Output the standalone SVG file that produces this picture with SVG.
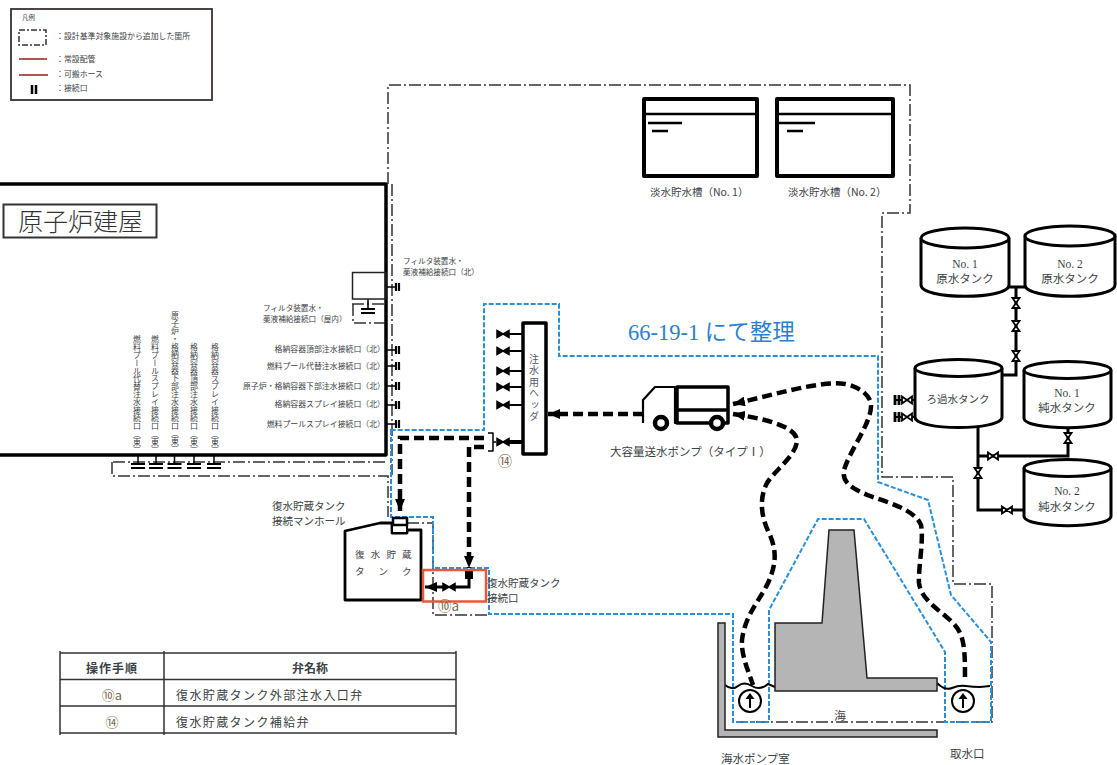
<svg xmlns="http://www.w3.org/2000/svg" width="1117" height="765" viewBox="0 0 1117 765">
<style>
text{font-family:"Liberation Serif","Noto Sans CJK JP",serif;fill:#3a3f45;font-size:10.5px}
.jp{font-family:"Noto Sans CJK JP",sans-serif}
.s8{font-size:7.9px}
.s7{font-size:7.6px}
.lg{font-size:7.9px}
.v{writing-mode:vertical-rl;font-size:7.9px}
.m{text-anchor:middle}
.e{text-anchor:end}
.n{fill:none;stroke:#000;stroke-linejoin:round}
.w{fill:#fff;stroke:#000;stroke-linejoin:round}
.dd{fill:none;stroke:#333;stroke-width:1.5;stroke-dasharray:12 3 2 3}
.blue{fill:none;stroke:#2a8fd8;stroke-width:2;stroke-dasharray:5 2}
.hose{fill:none;stroke:#000;stroke-width:4.5;stroke-dasharray:10 5}
.pipe{fill:none;stroke:#000;stroke-width:3}
.gray{fill:#b5b5b5;stroke:#222;stroke-width:1.5}
.num{fill:#7a6a50}
</style>
<defs>
<marker id="arr" markerUnits="userSpaceOnUse" markerWidth="13" markerHeight="10" refX="12" refY="5" orient="auto-start-reverse"><path d="M0,0L12,5L0,10z" fill="#000"/></marker>
<g id="vh"><path d="M-5,-3.5L5,3.5V-3.5L-5,3.5z" fill="#fff" stroke="#000" stroke-width="1.8"/></g>
<g id="vv"><path d="M-3.5,-5L3.5,5H-3.5L3.5,-5z" fill="#fff" stroke="#000" stroke-width="1.8"/></g>
<g id="vb"><path d="M-6,-3.5L6,3.5V-3.5L-6,3.5z" fill="#000" stroke="#000" stroke-width="1.5"/></g>
<g id="cr"><path d="M0,-4V4M3,-4V4" stroke="#000" stroke-width="2.2" fill="none"/></g>
<g id="cd"><path d="M-7,-2H7M-7,2H7" stroke="#000" stroke-width="2" fill="none"/></g>
</defs>
<rect width="1117" height="765" fill="#fff"/>

<g id="legend">
<rect x="11" y="9" width="201" height="91" fill="#fff" stroke="#3a3030" stroke-width="1.8"/>
<text class="jp" x="22" y="20" style="font-size:6.5px">凡例</text>
<rect class="dd" x="19" y="30" width="27" height="15" style="stroke-dasharray:6 2 2 2"/>
<path d="M19,59H47" stroke="#8a2418" stroke-width="1.5"/>
<path d="M19,75H48" stroke="#8a2418" stroke-width="1.5"/>
<path d="M32,85V94M36,85V94" stroke="#000" stroke-width="2.5"/>
<text class="jp lg" x="56" y="39">：設計基準対象施設から追加した箇所</text>
<text class="jp lg" x="56" y="62">：常設配管</text>
<text class="jp lg" x="56" y="77">：可搬ホース</text>
<text class="jp lg" x="56" y="91">：接続口</text>
</g>

<g id="connectors">
<path class="dd" d="M388,184V85H910V213H882V477H953V584H992V722H733"/>
<path class="dd" d="M352,304H386M353,304V323H386M392,184V475M113,462H388M112,462V476H388V517M407,523H433V615H488"/>
<path class="blue" d="M391,430V517H433V568H489V614H733V722H769V610L818,519H864L945,652V722H991V642L951,595L928,500L878,482V356H559V304H484V430Z"/>
<path class="hose" marker-start="url(#arr)" d="M733,404C770,396 820,380 845,384C860,387 872,396 871,407C870,425 850,450 844,470C842,482 850,488 870,496C890,503 915,510 921,525C924,540 918,570 919,583C921,600 940,610 953,623C965,635 965,650 965,682"/>
<path class="hose" marker-start="url(#arr)" d="M733,414C760,418 795,425 797,440C797,455 775,470 767,483C758,500 762,520 770,535C777,552 776,565 768,583C760,600 745,615 742,640C741,655 748,670 753,685"/>
<path class="hose" marker-end="url(#arr)" d="M643,414H548"/>
<path class="hose" marker-end="url(#arr)" d="M484,438H400V511"/>
<path class="hose" marker-end="url(#arr)" d="M484,447H469V568"/>
<path class="n" stroke-width="1.5" d="M488,433H493V451H488M493,442H496"/>
<path class="pipe" d="M469,575V587H455"/>
<path class="pipe" marker-end="url(#arr)" d="M444,587H425"/>
<rect x="465" y="571" width="8" height="8" fill="#000"/>
<use href="#vb" x="449" y="587"/>
<use href="#vb" x="503" y="442"/>
<path d="M509,442H523" stroke="#000" stroke-width="4"/>
<path d="M509,334H523M509,351H523M509,371H523M509,387H523M509,405H523" stroke="#000" stroke-width="2"/>
<use href="#vb" x="503" y="334"/><use href="#vb" x="503" y="351"/><use href="#vb" x="503" y="371"/><use href="#vb" x="503" y="387"/><use href="#vb" x="503" y="405"/>
<path d="M386,287H396M386,350H396M386,366H396M386,386H396M386,405H396M386,424H396" stroke="#000" stroke-width="1.5"/>
<use href="#cr" x="396" y="287"/><use href="#cr" x="396" y="350"/><use href="#cr" x="396" y="366"/><use href="#cr" x="396" y="386"/><use href="#cr" x="396" y="405"/><use href="#cr" x="396" y="424"/>
<path d="M138,455V464M156,455V464M174.500,455V464M194,455V464M214,455V464M368,299V309" stroke="#000" stroke-width="1.5"/>
<use href="#cd" x="138" y="466"/><use href="#cd" x="156" y="466"/><use href="#cd" x="174.500" y="466"/><use href="#cd" x="194" y="466"/><use href="#cd" x="214" y="466"/><use href="#cd" x="368" y="311"/>
<path class="pipe" d="M1009,287H1025M1016,287V375H1002M978,427V510H1024M978,456H1068V427"/>
<use href="#vv" x="1016" y="303"/><use href="#vv" x="1016" y="326"/><use href="#vv" x="1016" y="356"/>
<use href="#vh" x="993" y="456"/><use href="#vv" x="978" y="473"/><use href="#vh" x="1007" y="510"/><use href="#vv" x="1068" y="438"/>
<path d="M896,400H915M896,417H915" stroke="#000" stroke-width="2"/>
<use href="#vh" x="907" y="400"/><use href="#vh" x="907" y="417"/>
<path d="M895,395V405M899,395V405M895,412V422M899,412V422" stroke="#000" stroke-width="2.8"/>
<path class="n" stroke-width="2" d="M725,685Q732,691 738,686T752,686T768,684L775,687M937,683Q945,691 952,688T966,686T980,687L990,686"/>
</g>

<g id="reactor-building">
<path class="n" stroke-width="3.500" d="M0,184H386V455H0"/>
<rect x="3.500" y="204.500" width="153" height="33" fill="#fff" stroke="#333" stroke-width="2"/>
<text class="jp" x="18" y="231" style="font-size:25px;fill:#333;font-weight:300">原子炉建屋</text>
<rect x="352.500" y="272.500" width="33.500" height="26.500" fill="none" stroke="#222" stroke-width="1.500"/>
<text class="jp s7" x="403" y="264">フィルタ装置水・</text>
<text class="jp s7" x="403" y="275">薬液補給接続口（北）</text>
<text class="jp s7" x="263" y="311">フィルタ装置水・</text>
<text class="jp s7" x="263" y="322">薬液補給接続口（屋内）</text>
<text class="jp s8 e" x="385" y="352">格納容器頂部注水接続口（北）</text>
<text class="jp s8 e" x="385" y="369">燃料プール代替注水接続口（北）</text>
<text class="jp s8 e" x="385" y="389">原子炉・格納容器下部注水接続口（北）</text>
<text class="jp s8 e" x="385" y="407">格納容器スプレイ接続口（北）</text>
<text class="jp s8 e" x="385" y="427">燃料プールスプレイ接続口（北）</text>
<text class="jp v" x="137" y="335">燃料プール代替注水接続口（東）</text>
<text class="jp v" x="155" y="335">燃料プールスプレイ接続口（東）</text>
<text class="jp v" x="175" y="311">原子炉・格納容器下部注水接続口（東）</text>
<text class="jp v" x="194" y="343">格納容器頂部注水接続口（東）</text>
<text class="jp v" x="215" y="343">格納容器スプレイ接続口（東）</text>
</g>

<g id="freshwater-1">
<rect class="n" stroke-width="4" x="644" y="99" width="113" height="77"/>
<path class="n" stroke-width="2.500" d="M644,114H757"/>
<path class="n" stroke-width="2.500" d="M648,123H682M652,131H668"/>
<text class="jp" x="650" y="196">淡水貯水槽（No. 1）</text>
</g>
<g id="freshwater-2">
<rect class="n" stroke-width="4" x="777" y="99" width="116" height="77"/>
<path class="n" stroke-width="2.500" d="M777,114H893"/>
<path class="n" stroke-width="2.500" d="M779,123H815M787,131H803"/>
<text class="jp" x="788" y="196">淡水貯水槽（No. 2）</text>
</g>

<text id="note" x="628" y="340" style="font-size:22.500px;fill:#2a7fd0">66-19-1 にて整理</text>

<g id="header">
<rect class="w" stroke-width="3.500" x="523" y="323" width="23" height="131"/>
<text class="jp v" x="534" y="354" style="font-size:10px;letter-spacing:1.500px;fill:#555a70">注水用ヘッダ</text>
<text class="jp m num" x="505" y="466" style="font-size:14px">⑭</text>
</g>

<g id="truck">
<path class="n" stroke-width="2.200" d="M643,423V400L655,387H675V423H729"/>
<rect class="n" stroke-width="3.500" x="677" y="387" width="51" height="36"/>
<path class="n" stroke-width="3.500" d="M677,410H728"/>
<circle cx="661" cy="423" r="6" fill="#fff" stroke="#000" stroke-width="4.500"/>
<circle cx="717" cy="423" r="6" fill="#fff" stroke="#000" stroke-width="4.500"/>
<text class="jp" x="610" y="456" style="font-size:11.500px">大容量送水ポンプ（タイプⅠ）</text>
</g>

<g id="cst">
<path class="w" stroke-width="2.800" d="M345,600V531L380,523H392V533H407V530H421V600Z"/>
<rect class="w" stroke-width="2" x="392" y="525" width="15" height="8"/>
<rect x="393" y="518" width="14" height="7" fill="#fff" stroke="#000" stroke-width="2.500"/>
<text class="jp" x="355" y="558" style="font-size:9.500px;letter-spacing:6.200px">復水貯蔵</text>
<text class="jp" x="355" y="575" style="font-size:9.500px;letter-spacing:14px">タンク</text>
<text class="jp" x="272" y="510">復水貯蔵タンク</text>
<text class="jp" x="272" y="525">接続マンホール</text>
</g>

<g id="cst-connection">
<rect x="423" y="570" width="63" height="31.500" fill="none" stroke="#e8583a" stroke-width="2.500"/>
<text class="jp" x="487" y="587">復水貯蔵タンク</text>
<text class="jp" x="487" y="602">接続口</text>
<text class="jp num" x="438" y="611" style="font-size:13.500px">⑩a</text>
</g>

<g id="raw-1">
<path class="w" stroke-width="3" d="M921,238V285C921,300 1009,300 1009,285V238"/>
<ellipse class="w" stroke-width="3" cx="965" cy="238" rx="44" ry="10"/>
<text class="m" x="965" y="268" style="font-size:11.500px">No. 1</text>
<text class="jp m" x="965" y="283" style="font-size:11.500px">原水タンク</text>
</g>
<g id="raw-2">
<path class="w" stroke-width="3" d="M1025,236V285C1025,300 1115,300 1115,285V236"/>
<ellipse class="w" stroke-width="3" cx="1070" cy="236" rx="45" ry="10"/>
<text class="m" x="1070" y="268" style="font-size:11.500px">No. 2</text>
<text class="jp m" x="1070" y="283" style="font-size:11.500px">原水タンク</text>
</g>
<g id="filtered">
<path class="w" stroke-width="3" d="M915,368V417C915,431 1002,431 1002,417V368"/>
<ellipse class="w" stroke-width="3" cx="958.500" cy="368" rx="43.500" ry="8.500"/>
<text class="jp m" x="958" y="403">ろ過水タンク</text>
</g>
<g id="pure-1">
<path class="w" stroke-width="3" d="M1024,370V418C1024,431 1111,431 1111,418V370"/>
<ellipse class="w" stroke-width="3" cx="1067.500" cy="370" rx="43.500" ry="8.500"/>
<text class="m" x="1067" y="397" style="font-size:11.500px">No. 1</text>
<text class="jp m" x="1067" y="412" style="font-size:11.500px">純水タンク</text>
</g>
<g id="pure-2">
<path class="w" stroke-width="3" d="M1024,468V516C1024,529 1111,529 1111,516V468"/>
<ellipse class="w" stroke-width="3" cx="1067.500" cy="468" rx="43.500" ry="8.500"/>
<text class="m" x="1067" y="495" style="font-size:11.500px">No. 2</text>
<text class="jp m" x="1067" y="511" style="font-size:11.500px">純水タンク</text>
</g>

<g id="seawall">
<path class="gray" d="M829,530H854L867,678H937V691H775V623H822Z"/>
<path class="gray" d="M718,623H725V730H937V737H718Z"/>
<text class="jp m" x="840" y="720" style="font-size:11.500px">海</text>
<text class="jp" x="721" y="763" style="font-size:11.500px">海水ポンプ室</text>
<text class="jp" x="950" y="758" style="font-size:11.500px">取水口</text>
</g>
<g id="pump-1">
<circle cx="750" cy="701" r="11" fill="#fff" stroke="#000" stroke-width="2"/>
<path d="M750,708V698" stroke="#000" stroke-width="2"/><path d="M745.500,699L750,693L754.500,699z" fill="#000"/>
</g>
<g id="pump-2">
<circle cx="963" cy="701" r="11" fill="#fff" stroke="#000" stroke-width="2"/>
<path d="M963,708V698" stroke="#000" stroke-width="2"/><path d="M958.500,699L963,693L967.500,699z" fill="#000"/>
</g>

<g id="table">
<path d="M60,653H456M60,679.500H456M60,706H456M60,733H456M60,651V735M164,651V735M456,651V735" stroke="#333" stroke-width="1.500" fill="none"/>
<text class="jp m" x="112" y="673" style="font-size:12px;font-weight:700;letter-spacing:1px">操作手順</text>
<text class="jp m" x="310" y="673" style="font-size:12px;font-weight:700">弁名称</text>
<text class="jp m num" x="112" y="700" style="font-size:13px">⑩a</text>
<text class="jp m num" x="112" y="727" style="font-size:13px">⑭</text>
<text class="jp" x="176" y="700" style="font-size:12px;letter-spacing:1.400px">復水貯蔵タンク外部注水入口弁</text>
<text class="jp" x="176" y="727" style="font-size:12px;letter-spacing:1.400px">復水貯蔵タンク補給弁</text>
</g>
</svg>
